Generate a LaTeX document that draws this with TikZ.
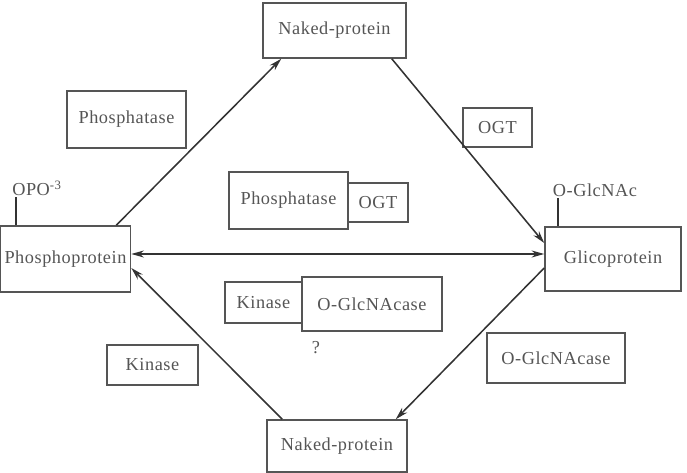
\documentclass[tikz,border=0pt]{standalone}
\usepackage{fontspec}
\setmainfont[LetterSpace=3]{Liberation Serif}
\usetikzlibrary{arrows.meta}
\definecolor{boxgray}{HTML}{555555}
\definecolor{linegray}{HTML}{333333}
\tikzset{
  box/.style={draw=boxgray,line width=1.1pt,text=boxgray,fill=white,inner sep=0pt},
  sz/.style 2 args={minimum width=#1*0.025cm,minimum height=#2*0.025cm},
  tag/.style={text=boxgray,inner sep=1pt},
  link/.style={linegray,line width=1.1pt}
}

\begin{document}
\begin{tikzpicture}[x=0.025cm,y=-0.025cm,font=\fontsize{13}{15}\selectfont,
  >={Stealth[length=9pt,width=5pt]}]
	\useasboundingbox (0,0) rectangle (687,473);
	% the four protein states
	\node[box,sz={143}{55}] (nt) at (334.5,30.5) {Naked-protein};
	\node[box,sz={140}{52}] (nb) at (337,446) {Naked-protein};
	\node[box,sz={130}{66}] (pp) at (65.5,259) {Phosphoprotein};
	\node[box,sz={136}{64}] (gp) at (613,259) {Glicoprotein};
	% enzymes on the sides
	\node[box,sz={119}{57}] (phL) at (126.5,119.5) {Phosphatase};
	\node[box,sz={91}{40}] (kiL) at (152.5,365) {Kinase};
	\node[box,sz={69}{39}] (ogtR) at (497.5,127.5) {OGT};
	\node[box,sz={138}{50}] (ogaR) at (556,358) {O-GlcNAcase};
	% enzymes in the middle
	\node[box,sz={119}{57}] (phC) at (288.5,200.5) {Phosphatase};
	\node[box,sz={60}{39}] (ogtC) at (378,202.5) {OGT};
	\node[box,sz={77}{41}] (kiC) at (263.5,302.5) {Kinase};
	\node[box,sz={140}{54}] (ogaC) at (372,304) {O-GlcNAcase};
	\node[tag] (q) at (316,348) {?};
	% groups on the proteins
	\node[tag] (opo) at (37,188) {OPO\textsuperscript{-3}};
	\node[tag] (glc) at (595,190) {O-GlcNAc};
	\coordinate (opofoot) at ([xshift=0.41cm]pp.north west);
	\coordinate (glcfoot) at ([xshift=0.35cm]gp.north west);
	\draw[link] (opofoot) -- (opofoot |- opo.south);
	\draw[link] (glcfoot) -- (glcfoot |- glc.south);
	% cycle
	\draw[link,->] ([xshift=-0.375cm]pp.north east) -- ([xshift=0.475cm]nt.south west);
	\draw[link,->] ([xshift=-0.375cm]nt.south east) -- ([yshift=0.4cm]gp.west);
	\draw[link,->] ([yshift=-0.225cm]gp.west) -- ([xshift=-0.3cm]nb.north east);
	\draw[link,->] ([xshift=0.4cm]nb.north west) -- ([yshift=-0.225cm]pp.east);
	\coordinate (mid) at ([yshift=0.125cm]pp.east);
	\draw[link,<->] (mid) -- (mid -| gp.west);
\end{tikzpicture}
\end{document}
